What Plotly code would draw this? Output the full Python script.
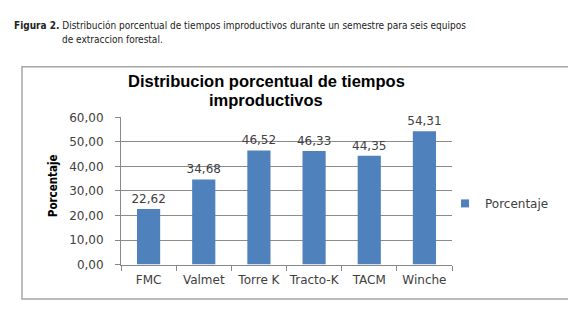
import plotly.graph_objects as go

categories = ["FMC", "Valmet", "Torre K", "Tracto-K", "TACM", "Winche"]
values = [22.62, 34.68, 46.52, 46.33, 44.35, 54.31]
series_name = "Porcentaje"
y_ticks = [0, 10, 20, 30, 40, 50, 60]

W, H = 576, 321
def px(x): return x / W
def py(y): return 1 - y / H

NARROW = "DejaVu Sans Condensed, Liberation Sans, sans-serif"
BAR_COLOR = "#4F81BD"

fig = go.Figure()
fig.add_trace(go.Bar(
    x=categories, y=values, name=series_name, showlegend=False,
    marker=dict(color=BAR_COLOR, line=dict(width=0)),
    texttemplate="%{y:.2f}", textposition="outside", cliponaxis=False,
    constraintext="none",
    textfont=dict(family="DejaVu Sans", size=12, color="#404040"),
    width=0.42,
))
# legend entry with small square symbol
fig.add_trace(go.Scatter(
    x=[None], y=[None], mode="markers", name=series_name,
    marker=dict(symbol="square", size=8, color=BAR_COLOR),
))

fig.update_layout(
    width=W, height=H,
    margin=dict(l=0, r=0, t=0, b=0),
    paper_bgcolor="white", plot_bgcolor="white",
    separators=",.",
    showlegend=True,
    legend=dict(x=px(437), y=py(197), xanchor="left", yanchor="middle",
                font=dict(family="DejaVu Sans", size=12, color="#404040"),
                bgcolor="rgba(0,0,0,0)", itemwidth=30),
    xaxis=dict(domain=[px(113), px(444)], type="category",
               showline=True, linecolor="#888888", linewidth=1,
               ticks="outside", tickson="boundaries", ticklen=5, tickcolor="#888888",
               tickangle=0, ticklabelstandoff=4,
               tickfont=dict(family="DejaVu Sans", size=12, color="#404040"),
               showgrid=False),
    yaxis=dict(domain=[py(261), py(107)], range=[0, 60],
               tickvals=y_ticks, tickformat=".2f",
               showline=True, linecolor="#888888", linewidth=1,
               ticks="outside", ticklen=5, tickcolor="#888888",
               ticklabelstandoff=9,
               showgrid=True, gridcolor="#8c8c8c", gridwidth=1,
               zeroline=False,
               tickfont=dict(family="DejaVu Sans", size=12, color="#404040")),
)

# Chart border
fig.add_shape(type="rect", xref="paper", yref="paper",
              x0=px(14), x1=px(563), y0=py(297), y1=py(54),
              line=dict(color="#a6a6a6", width=1.5), layer="below")

# Chart title (two lines)
fig.add_annotation(xref="paper", yref="paper", x=px(258), y=py(69),
                   text="<b>Distribucion porcentual de tiempos</b>",
                   showarrow=False, xanchor="center", yanchor="middle",
                   font=dict(family="Liberation Sans", size=16.5, color="black"))
fig.add_annotation(xref="paper", yref="paper", x=px(258), y=py(89),
                   text="<b>improductivos</b>",
                   showarrow=False, xanchor="center", yanchor="middle",
                   font=dict(family="Liberation Sans", size=16.5, color="black"))

# Y axis title
fig.add_annotation(xref="paper", yref="paper", x=px(45), y=py(179),
                   text="<b>Porcentaje</b>", textangle=-90, showarrow=False,
                   xanchor="center", yanchor="middle",
                   font=dict(family=NARROW, size=11.5, color="black"))

# Figure caption
fig.add_annotation(xref="paper", yref="paper", x=px(4), y=py(11),
                   text="<b>Figura 2.</b> Distribución porcentual de tiempos improductivos durante un semestre para seis equipos",
                   showarrow=False, xanchor="left", yanchor="middle",
                   font=dict(family=NARROW, size=10, color="#222222"))
fig.add_annotation(xref="paper", yref="paper", x=px(52), y=py(26),
                   text="de extraccion forestal.",
                   showarrow=False, xanchor="left", yanchor="middle",
                   font=dict(family=NARROW, size=10, color="#222222"))

fig.write_html("out.html")
